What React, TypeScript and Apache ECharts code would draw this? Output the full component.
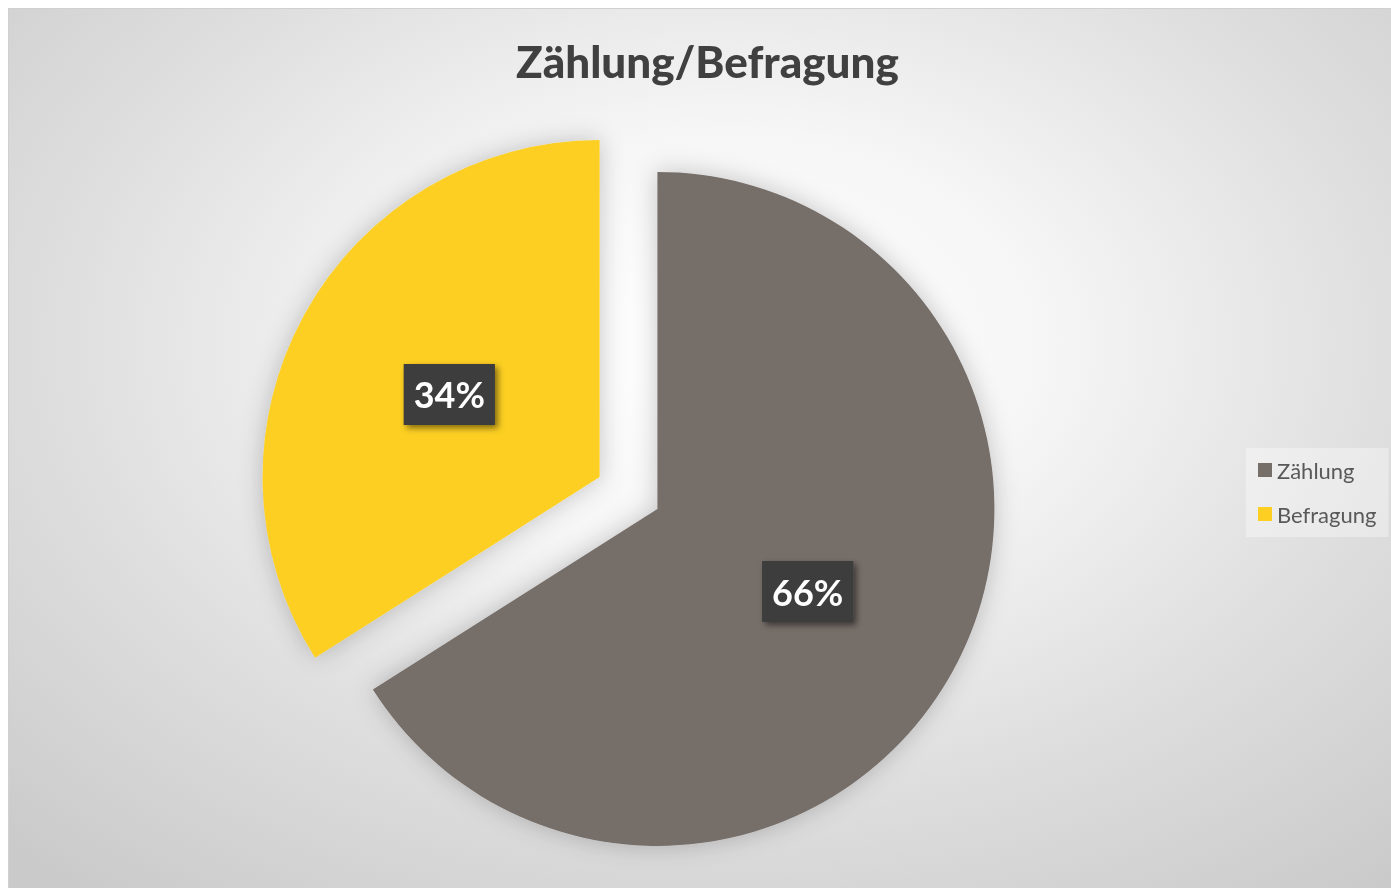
import React, { useEffect, useRef } from "react";
import * as echarts from "echarts";

const categories = ["Zählung", "Befragung"];
const values = [66, 34];
const colors = ["#766E69", "#FCCF22"];

export default function App() {
  const ref = useRef<HTMLDivElement>(null);
  useEffect(() => {
    const chart = echarts.init(ref.current!, undefined, { renderer: "svg" });
    chart.setOption({
      animation: false,
      title: {
        text: "Zählung/Befragung",
        left: 502,
        top: 25,
        textStyle: { fontFamily: "Lato", fontWeight: 900, fontSize: 44, color: "#404040" },
      },
      legend: {
        orient: "vertical",
        left: 1237,
        top: 439,
        backgroundColor: "rgba(255,255,255,0.35)",
        padding: [11, 12, 12, 12],
        itemWidth: 14,
        itemHeight: 14,
        itemGap: 22,
        icon: "rect",
        textStyle: { fontFamily: "Lato", fontSize: 22, color: "#595959", padding: [0, 0, 0, 0] },
        data: categories,
      },
      series: [
        {
          type: "pie",
          center: [619.5, 484],
          radius: 337,
          startAngle: 90,
          clockwise: true,
          selectedMode: "multiple",
          selectedOffset: 33,
          emphasis: { disabled: true },
          itemStyle: { shadowBlur: 25, shadowColor: "rgba(0,0,0,0.22)" },
          label: {
            show: true,
            position: "inside",
            formatter: "{d}%",
            fontFamily: "Lato",
            fontWeight: "bold",
            fontSize: 36,
            color: "#ffffff",
            backgroundColor: "#3d3d3d",
            padding: [12, 10, 13, 10],
            shadowBlur: 6,
            shadowOffsetX: 3,
            shadowOffsetY: 3,
            shadowColor: "rgba(0,0,0,0.5)",
          },
          labelLine: { show: false },
          data: categories.map((c, i) => ({
            name: c,
            value: values[i],
            selected: true,
            itemStyle: { color: colors[i] },
          })),
        },
      ],
    });
    return () => chart.dispose();
  }, []);
  return (
    <div
      ref={ref}
      style={{
        position: "fixed",
        left: 8,
        top: 8,
        width: 1383,
        height: 880,
        boxSizing: "border-box",
        borderTop: "1px solid #d0d0d0",
        borderLeft: "1px solid #d0d0d0",
        background:
          "radial-gradient(ellipse 75% 80% at 52% 38%, #ffffff 0%, #f6f6f6 30%, #dedede 65%, #cacaca 100%)",
      }}
    />
  );
}
